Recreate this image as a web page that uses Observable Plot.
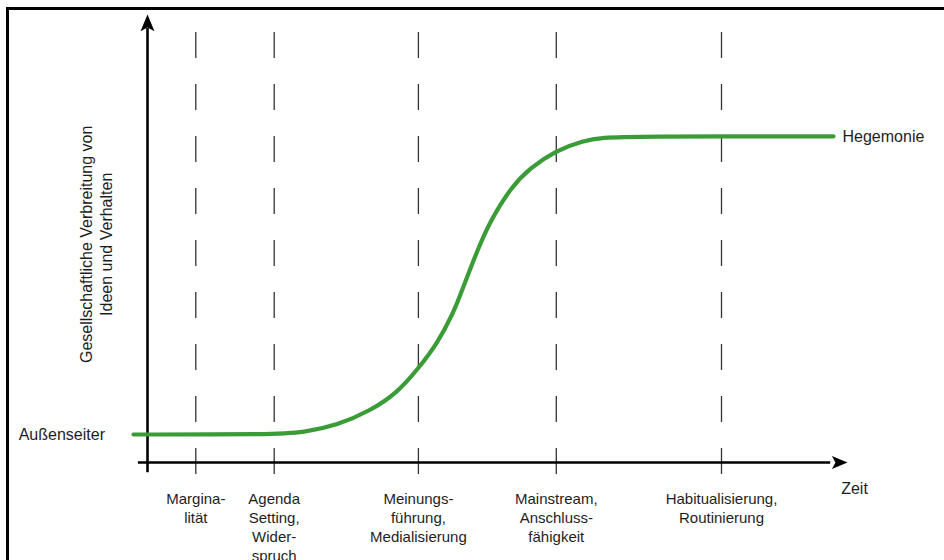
<!DOCTYPE html>
<html>
<head>
<meta charset="utf-8">
<script src="https://cdn.jsdelivr.net/npm/d3@7"></script>
<script src="https://cdn.jsdelivr.net/npm/@observablehq/plot@0.6"></script>
<style>
  html, body { margin: 0; padding: 0; background: #fff; }
  #wrap { position: relative; width: 944px; height: 560px; overflow: hidden; }
  #frame { position: absolute; left: 6px; top: 7px; right: -10px; bottom: -10px;
           border-top: 3.5px solid #000; border-left: 3.5px solid #000; pointer-events: none; }
</style>
</head>
<body>
<div id="wrap"><div id="frame"></div></div>
<script>
// Phases along the time axis (time units 0..100)
const stageLabels = [
  "Margina-\nlität",
  "Agenda\nSetting,\nWider-\nspruch",
  "Meinungs-\nführung,\nMedialisierung",
  "Mainstream,\nAnschluss-\nfähigkeit",
  "Habitualisierung,\nRoutinierung"
];
const stageTimes = [6.9, 18.1, 38.7, 58.4, 82.0];

// Diffusion curve (time, societal spread 0..100)
const curveTime = [-2.0, 18.0, 22.3, 27.1, 31.9, 35.7, 38.7, 41.4, 43.7, 45.1, 47.1, 49.0, 51.9, 54.7, 58.3, 62.3, 65.1, 69.0, 98.0];
const curveValue = [6.25, 6.25, 6.7, 8.3, 11.6, 15.6, 21.0, 26.6, 33.3, 39.1, 47.3, 54.0, 61.4, 65.8, 69.6, 71.9, 72.5, 72.8, 72.8];

const lowLabel = "Außenseiter";
const highLabel = "Hegemonie";
const xLabel = "Zeit";
const yLabel = "Gesellschaftliche Verbreitung von\nIdeen und Verhalten";

const curve = curveTime.map((t, i) => ({t, v: curveValue[i]}));
const stages = stageTimes.map((t, i) => ({t, label: stageLabels[i]}));

// custom arrowhead symbols (tip at origin)
const arrowUp = {
  draw(ctx, size) {
    const r = Math.sqrt(size / Math.PI);
    ctx.moveTo(0, 0);
    ctx.lineTo(-r, 2.4 * r);
    ctx.lineTo(0, 1.85 * r);
    ctx.lineTo(r, 2.4 * r);
    ctx.closePath();
  }
};
const arrowRight = {
  draw(ctx, size) {
    const r = Math.sqrt(size / Math.PI);
    ctx.moveTo(0, 0);
    ctx.lineTo(-2.4 * r, -r);
    ctx.lineTo(-1.85 * r, 0);
    ctx.lineTo(-2.4 * r, r);
    ctx.closePath();
  }
};

const font = "'Liberation Sans', Arial, Helvetica, sans-serif";
const ink = "#1e1e1e";
const first = curve[0], last = curve[curve.length - 1];

const chart = Plot.plot({
  width: 944,
  height: 560,
  margin: 0,
  style: {fontFamily: font, background: "transparent", overflow: "visible"},
  x: {domain: [0, 100], range: [147, 847], axis: null},
  y: {domain: [0, 100], range: [462, 14], axis: null},
  marks: [
    // dashed phase lines
    Plot.ruleX(stages, {x: "t", y1: 96, y2: -2.7, stroke: "#333", strokeWidth: 1.3, strokeDasharray: "26,26"}),
    // axes
    Plot.ruleY([0], {x1: -1.3, x2: 97.6, stroke: "#000", strokeWidth: 2.6}),
    Plot.ruleX([0], {y1: -2.3, y2: 96.9, stroke: "#000", strokeWidth: 2.6}),
    Plot.dot([{t: 0, v: 100}], {x: "t", y: "v", r: 7, symbol: arrowUp, fill: "#000", stroke: "none"}),
    Plot.dot([{t: 100, v: 0}], {x: "t", y: "v", r: 6.5, symbol: arrowRight, fill: "#000", stroke: "none"}),
    // S-curve
    Plot.line(curve, {x: "t", y: "v", curve: "basis", stroke: "#3a9c37", strokeWidth: 4.2}),
    // labels
    Plot.text(stages, {x: "t", y: 0, text: "label", dy: 28, lineAnchor: "top", lineHeight: 1.27,
      fontSize: 15, fill: ink, textAnchor: "middle"}),
    Plot.text([lowLabel], {x: -18.4, y: first.v, text: d => d, textAnchor: "start", lineAnchor: "middle",
      fontSize: 16, fill: ink}),
    Plot.text([highLabel], {x: last.t, y: last.v, text: d => d, dx: 9, dy: 1, textAnchor: "start", lineAnchor: "middle",
      fontSize: 16, fill: ink}),
    Plot.text([xLabel], {x: 99.1, y: -5.8, text: d => d, textAnchor: "start", lineAnchor: "middle",
      fontSize: 16, fill: ink}),
    Plot.text([yLabel], {x: -7.4, y: 48.7, text: d => d, rotate: -90, textAnchor: "middle", lineAnchor: "middle",
      lineHeight: 1.25, fontSize: 16, fill: ink})
  ]
});
document.getElementById("wrap").insertBefore(chart, document.getElementById("frame"));
</script>
</body>
</html>
